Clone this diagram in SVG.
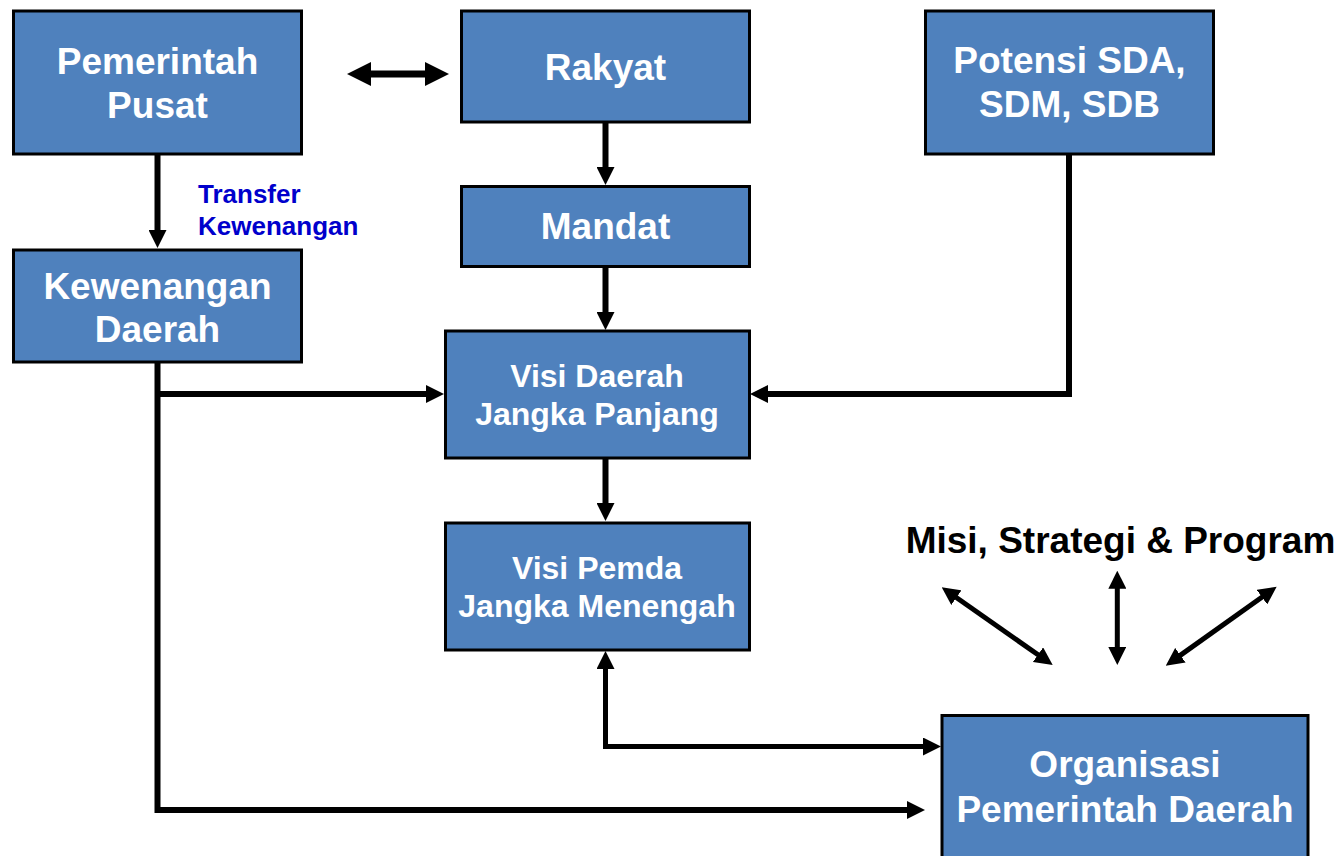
<svg xmlns="http://www.w3.org/2000/svg" width="1340" height="856" viewBox="0 0 1340 856">
<style>
.box{fill:#4F81BD;stroke:#000;stroke-width:3}
.t{font-family:"Liberation Sans",Arial,sans-serif;font-weight:bold;fill:#fff;text-anchor:middle}
.big{font-size:37px}
.mid{font-size:32px}
.lbl{font-family:"Liberation Sans",Arial,sans-serif;font-weight:bold;font-size:26px;fill:#0000CC}
.misi{font-family:"Liberation Sans",Arial,sans-serif;font-weight:bold;font-size:37px;fill:#000;text-anchor:middle}
.c{fill:none;stroke:#000;stroke-linejoin:miter}
</style>
<defs>
<marker id="ah" markerUnits="userSpaceOnUse" viewBox="0 0 18 18" refX="8" refY="9" markerWidth="18" markerHeight="18" orient="auto-start-reverse">
<path d="M0,0 L18,9 L0,18 z" fill="#000"/>
</marker>
<marker id="ahL" markerUnits="userSpaceOnUse" viewBox="0 0 24 24" refX="10" refY="12" markerWidth="24" markerHeight="24" orient="auto-start-reverse">
<path d="M0,0 L24,12 L0,24 z" fill="#000"/>
</marker>
</defs>

<g id="connectors">
<line class="c" x1="361" y1="74" x2="435" y2="74" stroke-width="7" marker-start="url(#ahL)" marker-end="url(#ahL)"/>
<line class="c" x1="157.5" y1="155" x2="157.5" y2="238" stroke-width="6" marker-end="url(#ah)"/>
<line class="c" x1="605.5" y1="122" x2="605.5" y2="175" stroke-width="6" marker-end="url(#ah)"/>
<line class="c" x1="605.5" y1="266" x2="605.5" y2="320" stroke-width="6" marker-end="url(#ah)"/>
<line class="c" x1="605.5" y1="458" x2="605.5" y2="511" stroke-width="6" marker-end="url(#ah)"/>
<path class="c" d="M1069,155 V394 H760" stroke-width="6" marker-end="url(#ah)"/>
<path class="c" d="M157.5,362 V810 H915" stroke-width="6" marker-end="url(#ah)"/>
<line class="c" x1="157.5" y1="394" x2="434" y2="394" stroke-width="6" marker-end="url(#ah)"/>
<path class="c" d="M605.5,661 V746.5 H931" stroke-width="5" marker-start="url(#ah)" marker-end="url(#ah)"/>
<line class="c" x1="949.9" y1="593" x2="1044.5" y2="659.3" stroke-width="5" marker-start="url(#ah)" marker-end="url(#ah)"/>
<line class="c" x1="1117.3" y1="580.7" x2="1117.3" y2="655" stroke-width="5" marker-start="url(#ah)" marker-end="url(#ah)"/>
<line class="c" x1="1268.5" y1="592.5" x2="1173.9" y2="659.9" stroke-width="5" marker-start="url(#ah)" marker-end="url(#ah)"/>
</g>

<g id="pemerintah-pusat">
<rect class="box" x="13.5" y="11" width="288" height="143"/>
<text class="t big" x="157.5" y="74">Pemerintah</text>
<text class="t big" x="157.5" y="118">Pusat</text>
</g>

<g id="rakyat">
<rect class="box" x="461.5" y="11" width="288" height="111"/>
<text class="t big" x="605.5" y="80">Rakyat</text>
</g>

<g id="potensi">
<rect class="box" x="925.5" y="11" width="288" height="143"/>
<text class="t big" x="1069.5" y="73">Potensi SDA,</text>
<text class="t big" x="1069.5" y="117">SDM, SDB</text>
</g>

<g id="transfer-label">
<text class="lbl" x="198" y="203">Transfer</text>
<text class="lbl" x="198" y="235">Kewenangan</text>
</g>

<g id="mandat">
<rect class="box" x="461.5" y="186.5" width="288" height="80"/>
<text class="t big" x="605.5" y="239">Mandat</text>
</g>

<g id="kewenangan-daerah">
<rect class="box" x="13.5" y="250" width="288" height="112"/>
<text class="t big" x="157.5" y="299">Kewenangan</text>
<text class="t big" x="157.5" y="342">Daerah</text>
</g>

<g id="visi-daerah">
<rect class="box" x="445.5" y="331" width="304" height="127"/>
<text class="t mid" x="597" y="387">Visi Daerah</text>
<text class="t mid" x="597" y="425">Jangka Panjang</text>
</g>

<g id="visi-pemda">
<rect class="box" x="445.5" y="523" width="304" height="127"/>
<text class="t mid" x="597" y="579">Visi Pemda</text>
<text class="t mid" x="597" y="617">Jangka Menengah</text>
</g>

<g id="misi">
<text class="misi" x="1120.5" y="553">Misi, Strategi &amp; Program</text>
</g>

<g id="organisasi">
<rect class="box" x="942" y="715.5" width="366" height="160"/>
<text class="t big" x="1125" y="777">Organisasi</text>
<text class="t big" x="1125" y="822">Pemerintah Daerah</text>
</g>
</svg>
